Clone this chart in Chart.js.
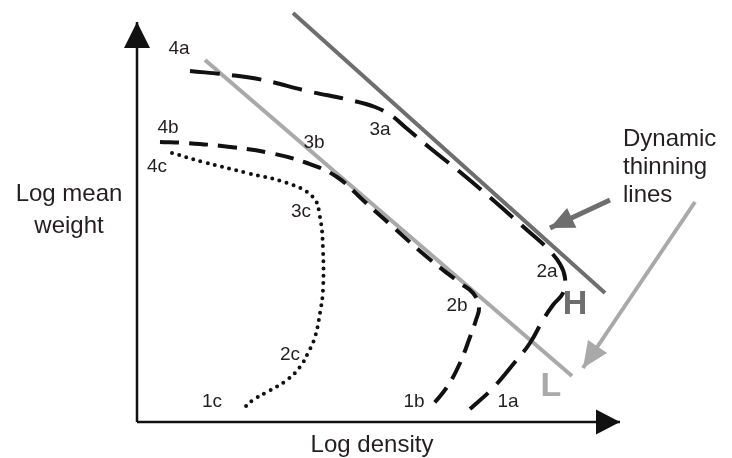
<!DOCTYPE html>
<html>
<head>
<meta charset="utf-8">
<script src="https://cdn.jsdelivr.net/npm/chart.js@4/dist/chart.umd.min.js"></script>
<style>
html,body{margin:0;padding:0;background:#fff;}
#wrap{width:732px;height:458px;position:relative;}
</style>
</head>
<body>
<div id="wrap"><canvas id="c"></canvas></div>
<script>
// Schematic coordinates: x = log density, y = log mean weight (arbitrary units, origin at the axes corner)
const curveA = [[53,351],[93,347],[126,342],[170,331],[213,322],[238,315],[255,306],[268,295],[293,274],[323,250],[356,222],[390,192],[410,174],[423,158],[428,144],[426,129],[416,117],[406,102],[393,79],[378,60],[356,34],[333,13]];
const curveB = [[23,280],[50,279],[93,275],[133,269],[170,259],[200,245],[228,220],[256,195],[290,165],[323,139],[336,129],[342,115],[339,102],[333,85],[323,59],[310,35],[293,14]];
const curveC = [[35,269],[66,260],[110,249],[150,239],[176,225],[183,205],[186,172],[186,132],[183,109],[178,85],[171,69],[163,55],[150,42],[130,30],[116,22],[105,12]];
const lineH = [[156,409],[468,129]];
const lineL = [[68,362],[435,46]];
const yAxisPts = [[0,0],[0,400]];
const xAxisPts = [[0,0],[483,0]];
const arrowDark = [[473,222],[413,194]];
const arrowLight = [[558,220],[446,54]];

const pointLabels = ['4a','4b','4c','3b','3a','3c','2a','2b','2c','1c','1b','1a'];
const pointLabelX = [42,31,20,177,243,164,410,320,153,75,277,371];
const pointLabelY = [373,294,255,279,292,210,150,116,67,20,20,20];

const xTitle = 'Log density';
const yTitle = ['Log mean', 'weight'];
const noteLines = ['Dynamic', 'thinning', 'lines'];

const toXY = a => a.map(p => ({x: p[0], y: p[1]}));
const TXT = '#231f20';
const DARK = '#6e6e6e';
const LIGHT = '#a9a9a9';

function ds(pts, color, width, dash, extra) {
  return Object.assign({
    data: toXY(pts), showLine: true, borderColor: color, backgroundColor: color,
    borderWidth: width, borderDash: dash || [], pointRadius: 0, pointHoverRadius: 0,
    tension: 0.4, fill: false, borderCapStyle: 'butt'
  }, extra || {});
}

const datasets = [
  ds(curveA, '#111', 4, [30, 12]),
  ds(curveB, '#111', 4, [19, 10]),
  ds(curveC, '#111', 4, [0, 7.4], {borderCapStyle: 'round'}),
  ds(lineH, DARK, 4, [], {tension: 0}),
  ds(lineL, LIGHT, 4, [], {tension: 0}),
  ds(arrowDark, DARK, 5, [], {tension: 0, arrowHead: {len: 24, width: 22}}),
  ds(arrowLight, LIGHT, 4, [], {tension: 0, arrowHead: {len: 26, width: 23}}),
  ds(yAxisPts, '#111', 2.5, [], {tension: 0, arrowHead: {len: 26, width: 26}}),
  ds(xAxisPts, '#111', 2.5, [], {tension: 0, arrowHead: {len: 24, width: 25}})
];

const arrowPlugin = {
  id: 'arrowheads',
  afterDatasetsDraw(chart) {
    const ctx = chart.ctx;
    chart.data.datasets.forEach((d, i) => {
      if (!d.arrowHead) return;
      const pts = chart.getDatasetMeta(i).data;
      const a = pts[pts.length - 2], b = pts[pts.length - 1];
      const ang = Math.atan2(b.y - a.y, b.x - a.x);
      const L = d.arrowHead.len, W = d.arrowHead.width / 2;
      const bx = b.x - Math.cos(ang) * L, by = b.y - Math.sin(ang) * L;
      const nx = -Math.sin(ang), ny = Math.cos(ang);
      ctx.save();
      ctx.fillStyle = d.borderColor;
      ctx.beginPath();
      ctx.moveTo(b.x, b.y);
      ctx.lineTo(bx + nx * W, by + ny * W);
      ctx.lineTo(bx - nx * W, by - ny * W);
      ctx.closePath();
      ctx.fill();
      ctx.restore();
    });
  }
};

const textPlugin = {
  id: 'texts',
  afterDraw(chart) {
    const ctx = chart.ctx;
    const xs = chart.scales.x, ys = chart.scales.y;
    const px = v => xs.getPixelForValue(v), py = v => ys.getPixelForValue(v);
    ctx.save();
    ctx.fillStyle = TXT;
    ctx.textBaseline = 'middle';
    ctx.textAlign = 'center';
    ctx.font = '19px "Liberation Sans", Arial, sans-serif';
    pointLabels.forEach((t, i) => ctx.fillText(t, px(pointLabelX[i]), py(pointLabelY[i])));
    // H and L markers
    ctx.font = 'bold 34px "Liberation Sans", Arial, sans-serif';
    ctx.fillStyle = DARK;
    ctx.fillText('H', px(438), py(117));
    ctx.fillStyle = LIGHT;
    ctx.fillText('L', px(414), py(35));
    // axis titles
    ctx.fillStyle = TXT;
    ctx.font = '24px "Liberation Sans", Arial, sans-serif';
    ctx.fillText(xTitle, px(235), py(-23));
    ctx.fillText(yTitle[0], px(-68), py(228));
    ctx.fillText(yTitle[1], px(-68), py(196));
    ctx.textAlign = 'left';
    const noteY = [283, 255, 227];
    noteLines.forEach((t, i) => ctx.fillText(t, px(486), py(noteY[i])));
    ctx.restore();
  }
};

new Chart(document.getElementById('c'), {
  type: 'scatter',
  data: { datasets },
  options: {
    responsive: true,
    maintainAspectRatio: false,
    animation: false,
    layout: { padding: 0 },
    plugins: { legend: { display: false }, tooltip: { enabled: false } },
    scales: {
      x: { type: 'linear', min: -137, max: 595, display: false },
      y: { type: 'linear', min: -36, max: 422, display: false }
    }
  },
  plugins: [arrowPlugin, textPlugin]
});
</script>
</body>
</html>
